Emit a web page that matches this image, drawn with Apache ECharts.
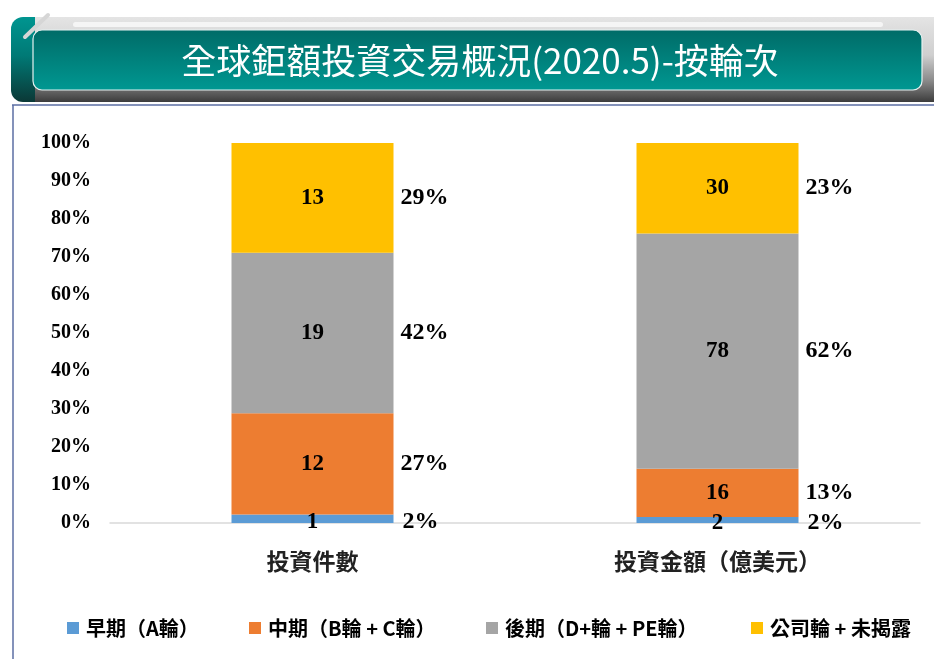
<!DOCTYPE html>
<html lang="zh-Hant">
<head>
    <meta charset="UTF-8">
    <title>全球鉅額投資交易概況(2020.5)-按輪次</title>
    <script type="text/javascript" src="https://cdn.jsdelivr.net/npm/echarts@6.0.0/dist/echarts.min.js"></script>
    <style>
        html, body {
            margin: 0;
            padding: 0;
            background: #fff;
        }
        #main {
            width: 934px;
            height: 659px;
        }
    </style>
</head>
<body>
<div id="main"></div>
<script>
    // 類別與數據
    const categories = ['投資件數', '投資金額（億美元）'];
    const seriesNames = ['早期（A輪）', '中期（B輪 + C輪）', '後期（D+輪 + PE輪）', '公司輪 + 未揭露'];
    const colors = ['#5b9bd5', '#ed7d31', '#a5a5a5', '#ffc000'];

    const earlyRound = [1, 2];
    const midRound = [12, 16];
    const lateRound = [19, 78];
    const otherRound = [13, 30];

    // 圖上標示的百分比
    const earlyPct = [2, 2];
    const midPct = [27, 13];
    const latePct = [42, 62];
    const otherPct = [29, 23];

    const yTicks = [0, 10, 20, 30, 40, 50, 60, 70, 80, 90, 100];

    const counts = [earlyRound, midRound, lateRound, otherRound];
    const pcts = [earlyPct, midPct, latePct, otherPct];

    const serif = '"Liberation Serif", "Times New Roman", serif';
    const cjk = '"Noto Sans CJK TC", "Noto Sans CJK SC", sans-serif';

    // 每個類別合計，換成100%堆疊
    const totals = categories.map((c, j) => counts.reduce((s, arr) => s + arr[j], 0));

    const series = [];
    counts.forEach(function (arr, i) {
        series.push({
            name: seriesNames[i],
            type: 'bar',
            stack: 'share',
            barWidth: '40%',
            itemStyle: {color: colors[i]},
            label: {
                show: true,
                position: 'inside',
                offset: i === 0 ? [0, 3] : [0, 0],  // 最底層字稍往下
                formatter: p => arr[p.dataIndex],
                fontFamily: serif,
                fontWeight: 'bold',
                fontSize: 23,
                color: '#000'
            },
            data: arr.map((v, j) => v / totals[j] * 100)
        });
    });
    // 透明疊加一組，只用來在右邊顯示百分比
    counts.forEach(function (arr, i) {
        series.push({
            name: seriesNames[i] + '%',
            type: 'bar',
            stack: 'pct',
            barWidth: '40%',
            barGap: '-100%',
            silent: true,
            itemStyle: {color: 'rgba(0,0,0,0)'},
            label: {
                show: true,
                position: 'right',
                distance: 7,
                offset: i === 0 ? [2, 3] : [0, 0],
                formatter: p => pcts[i][p.dataIndex] + '%',
                fontFamily: serif,
                fontWeight: 'bold',
                fontSize: 24,
                color: '#000'
            },
            data: arr.map((v, j) => v / totals[j] * 100)
        });
    });

    // 圖例每項位置
    const legendLeft = [62, 244, 481, 746];
    const legends = seriesNames.map((n, i) => ({
        data: [n],
        left: legendLeft[i],
        top: 613,
        icon: 'rect',
        itemWidth: 12,
        itemHeight: 12,
        textStyle: {
            fontFamily: cjk,
            fontWeight: 'bold',
            fontSize: 20,
            color: '#000',
            padding: [0, 0, 0, 2]
        }
    }));

    var chartDom = document.getElementById('main');
    var myChart = echarts.init(chartDom);
    var option = {
        animation: false,
        backgroundColor: '#fff',
        color: colors,
        graphic: [
            {   // 灰色底條
                type: 'rect',
                shape: {x: 28, y: 17, width: 906, height: 85},
                style: {
                    fill: new echarts.graphic.LinearGradient(0, 0, 0, 1, [
                        {offset: 0, color: '#e4e4e4'},
                        {offset: 0.45, color: '#cfcfcf'},
                        {offset: 0.75, color: '#8a8a8a'},
                        {offset: 1, color: '#3c3c3c'}
                    ])
                }
            },
            {   // 左邊綠色
                type: 'rect',
                shape: {x: 11, y: 17, width: 24, height: 85, r: [12, 0, 0, 12]},
                style: {
                    fill: new echarts.graphic.LinearGradient(0, 0, 0, 1, [
                        {offset: 0, color: '#009590'},
                        {offset: 0.45, color: '#007a76'},
                        {offset: 1, color: '#0b3836'}
                    ])
                }
            },
            {
                type: 'line',
                shape: {x1: 25, y1: 37, x2: 48, y2: 15},
                style: {stroke: '#d6d6d6', lineWidth: 4, lineCap: 'round'}
            },
            {   // 上方亮線
                type: 'rect',
                shape: {x: 73, y: 22, width: 810, height: 5, r: 2.5},
                style: {fill: '#f5f5f5'}
            },
            {   // 標題框
                type: 'rect',
                shape: {x: 33, y: 30, width: 889, height: 60, r: 9},
                style: {
                    fill: new echarts.graphic.LinearGradient(0, 0, 0, 1, [
                        {offset: 0, color: '#006b67'},
                        {offset: 1, color: '#009892'}
                    ]),
                    stroke: '#e6f2f1',
                    lineWidth: 1.2
                }
            },
            {
                type: 'text',
                x: 480,
                y: 61,
                style: {
                    text: '全球鉅額投資交易概況(2020.5)-按輪次',
                    fill: '#fff',
                    font: '35px ' + cjk,
                    align: 'center',
                    verticalAlign: 'middle'
                }
            },
            {   // 外框線
                type: 'line',
                shape: {x1: 12, y1: 105, x2: 934, y2: 105},
                style: {stroke: '#5b6ea3', lineWidth: 1.5}
            },
            {
                type: 'line',
                shape: {x1: 13, y1: 105, x2: 13, y2: 659},
                style: {stroke: '#5b6ea3', lineWidth: 1.5}
            }
        ],
        legend: legends,
        grid: {
            left: 110,
            right: 14,
            top: 143,
            bottom: 136
        },
        xAxis: {
            type: 'category',
            data: categories,
            axisLine: {lineStyle: {color: '#d9d9d9', width: 1.5}},
            axisTick: {show: false},
            axisLabel: {
                margin: 27,
                fontFamily: cjk,
                fontWeight: 'bold',
                fontSize: 23,
                color: '#222'
            }
        },
        yAxis: {
            type: 'value',
            min: yTicks[0],
            max: yTicks[yTicks.length - 1],
            interval: 10,
            splitLine: {show: false},
            axisLine: {show: false},
            axisTick: {show: false},
            axisLabel: {
                margin: 19,
                formatter: '{value}%',
                fontFamily: serif,
                fontWeight: 'bold',
                fontSize: 20,
                color: '#000'
            }
        },
        series: series
    };
    myChart.setOption(option);
</script>
</body>
</html>
